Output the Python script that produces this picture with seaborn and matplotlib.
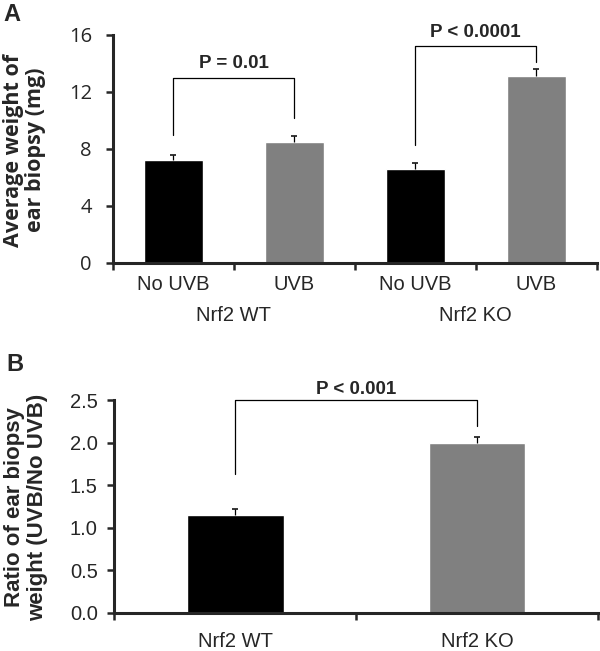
import numpy as np
import pandas as pd
import matplotlib
matplotlib.use("Agg")
import matplotlib.pyplot as plt
import matplotlib.transforms as mtransforms
import seaborn as sns

sns.set_style("ticks")
plt.rcParams['font.family'] = ['Liberation Sans', 'DejaVu Sans']

# Panel A: average ear biopsy weight (mg)
genotypes_a = ["Nrf2 WT", "Nrf2 WT", "Nrf2 KO", "Nrf2 KO"]
treatments_a = ["No UVB", "UVB", "No UVB", "UVB"]
weight_mean = [7.25, 8.45, 6.55, 13.1]
weight_sem = [0.3, 0.45, 0.45, 0.5]
p_labels_a = ["P = 0.01", "P < 0.0001"]

# Panel B: ratio UVB / No UVB
genotypes_b = ["Nrf2 WT", "Nrf2 KO"]
ratio_mean = [1.15, 2.0]
ratio_sem = [0.065, 0.07]
p_label_b = "P < 0.001"

colors_a = {"No UVB": "#000000", "UVB": "#808080"}
colors_b = ["#000000", "#808080"]

df_a = pd.DataFrame({"genotype": genotypes_a, "treatment": treatments_a, "weight": weight_mean})
df_a["cond"] = df_a["genotype"] + " " + df_a["treatment"]
df_b = pd.DataFrame({"genotype": genotypes_b, "ratio": ratio_mean})

W, H = 600, 651
fig = plt.figure(figsize=(6, 6.51), dpi=100)


def style_axis(ax, nbars):
    sns.despine(ax=ax)
    for s in ["left", "bottom"]:
        ax.spines[s].set_linewidth(2.2)
    ax.set_xlim(-0.5, nbars - 0.5)
    ax.set_xticks(np.arange(nbars + 1) - 0.5)
    ax.set_xticklabels([])
    ax.tick_params(axis='x', which='major', length=5, width=1.8, direction='out')
    ax.tick_params(axis='y', length=5, width=1.8, direction='out')
    ax.set_xlabel("")
    ax.set_ylabel("")


def upper_errorbars(ax, xs, means, errs):
    # only the upper half of the error bar, like the original figure
    eb = ax.errorbar(xs, means, yerr=[np.zeros(len(xs)), errs], fmt='none',
                     ecolor='black', elinewidth=0.9, capsize=2.5, capthick=1.1)
    for cap in eb[1]:
        if np.allclose(cap.get_ydata(), means):
            cap.remove()


def bracket(ax, x0, x1, top, y0, y1, text, ty):
    ax.plot([x0, x0, x1, x1], [y0, top, top, y1], color='black', lw=0.9, clip_on=False)
    ax.text((x0 + x1) / 2, ty, text, ha='center', va='center', fontsize=13.5,
            fontweight='bold', clip_on=False)


# ---------------- Panel A
axA = fig.add_axes([112.7 / W, 1 - 262.7 / H, 484 / W, 227.7 / H])
sns.barplot(data=df_a, x="cond", y="weight", hue="treatment", palette=colors_a,
            width=0.49, dodge=False, legend=False, saturation=1, ax=axA)
xs_a = np.arange(len(df_a))
upper_errorbars(axA, xs_a, weight_mean, weight_sem)
style_axis(axA, len(df_a))
axA.set_ylim(0, 16)
axA.set_yticks([0, 4, 8, 12, 16])
axA.tick_params(axis='y', labelsize=14.5, pad=10)
for lab in axA.get_yticklabels():
    lab.set_family('Open Sans')
axA.set_xticks(xs_a, minor=True)
axA.set_xticklabels(treatments_a, minor=True)
axA.tick_params(axis='x', which='minor', length=0, pad=9, labelsize=14.5)

trans = mtransforms.blended_transform_factory(axA.transData, axA.transAxes)
for g in df_a["genotype"].unique():
    pos = xs_a[(df_a["genotype"] == g).values].mean()
    axA.text(pos, -0.256, g, transform=trans, ha='center', va='baseline', fontsize=14.5)

bracket(axA, 0, 1, 13.0, 9.0, 10.2, p_labels_a[0], 14.0)
bracket(axA, 2, 3, 15.23, 8.3, 14.13, p_labels_a[1], 16.2)

fig.text(24.5 / W, 1 - 150 / H, "Average weight of\near biopsy (mg)", rotation=90,
         ha='center', va='center', fontsize=15.5, fontweight='bold',
         family='Open Sans', linespacing=1.1, multialignment='center')

# ---------------- Panel B
axB = fig.add_axes([114.3 / W, 1 - 612.7 / H, 483.7 / W, 212.7 / H])
sns.barplot(data=df_b, x="genotype", y="ratio", hue="genotype", palette=colors_b,
            width=0.4, dodge=False, legend=False, saturation=1, ax=axB)
xs_b = np.arange(len(df_b))
upper_errorbars(axB, xs_b, ratio_mean, ratio_sem)
style_axis(axB, len(df_b))
axB.set_ylim(0, 2.5)
axB.set_yticks(np.arange(0, 2.51, 0.5))
axB.set_yticklabels([f"{v:.1f}" for v in np.arange(0, 2.51, 0.5)])
axB.tick_params(axis='y', labelsize=14.5, pad=7)
axB.set_xticks(xs_b, minor=True)
axB.set_xticklabels(genotypes_b, minor=True)
axB.tick_params(axis='x', which='minor', length=0, pad=14, labelsize=14.5)

bracket(axB, 0, 1, 2.5, 1.63, 2.2, p_label_b, 2.62)

fig.text(26 / W, 1 - 507 / H, "Ratio of ear biopsy\nweight (UVB/No UVB)", rotation=90,
         ha='center', va='center', fontsize=16, fontweight='bold',
         linespacing=1.1, multialignment='center')

# panel letters
fig.text(3 / W, 1 - 3 / H, "A", ha='left', va='top', fontsize=17, fontweight='bold')
fig.text(6 / W, 1 - 353 / H, "B", ha='left', va='top', fontsize=17, fontweight='bold')

fig.savefig("out.png", dpi=100)
